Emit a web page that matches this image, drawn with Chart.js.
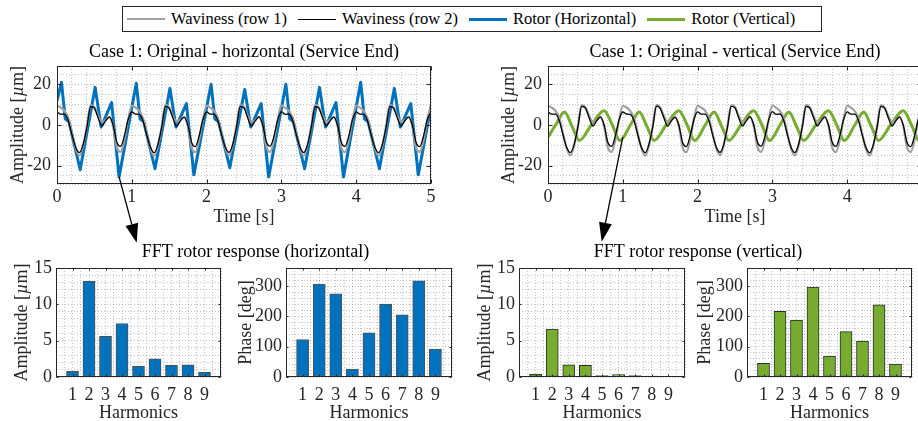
<!DOCTYPE html>
<html>
<head>
<meta charset="utf-8">
<script src="https://cdn.jsdelivr.net/npm/chart.js@4.4.1/dist/chart.umd.min.js"></script>
<style>
  html, body { margin: 0; padding: 0; background: #fff; }
  #wrap { position: relative; width: 918px; height: 421px; overflow: hidden; background: #fff; }
  canvas.layer { position: absolute; left: 0; top: 0; }
  #legend {
    position: absolute; left: 122px; top: 6px; width: 700px; height: 26px;
    box-sizing: border-box; border: 1px solid #262626; background: #fff;
    display: flex; align-items: center; padding-left: 4px;
    font-family: "Liberation Serif", serif; font-size: 16.5px; color: #000; white-space: nowrap;
  }
  #legend .item { display: flex; align-items: center; margin-right: 11px; }
  #legend .swatch { width: 38px; margin-right: 6px; }
</style>
</head>
<body>
<div id="wrap">
  <canvas class="layer" id="timeH" width="940" height="421"></canvas>
  <canvas class="layer" id="timeV" width="940" height="421"></canvas>
  <canvas class="layer" id="ampH" width="940" height="421"></canvas>
  <canvas class="layer" id="phaseH" width="940" height="421"></canvas>
  <canvas class="layer" id="ampV" width="940" height="421"></canvas>
  <canvas class="layer" id="phaseV" width="940" height="421"></canvas>
  <canvas class="layer" id="notes" width="940" height="421"></canvas>
  <div id="legend"></div>
</div>
<script>
// ---------------- measured signals ----------------
// waviness samples every 0.05 s over 0..5 s
const waveTime = Array.from({ length: 101 }, (_, i) => i / 20);

const wavinessRow1 = [
  9.5, 8.5, 7.0, 3.5, -4.0, -11.5, -15.0, -10.0, -0.5, 9.8, 8.8, 4.5, 1.5, 2.5, 3.8, -0.5, -11.0, -13.2, -7.5, 2.5,
  9.4, 8.6, 6.9, 3.4, -4.1, -11.6, -15.1, -10.1, -0.6, 9.9, 8.7, 4.4, 1.6, 2.6, 3.7, -0.6, -11.1, -13.4, -7.4, 2.6,
  9.5, 8.5, 7.1, 3.5, -4.0, -11.4, -14.9, -9.9, -0.4, 9.8, 8.9, 4.5, 1.5, 2.4, 3.8, -0.4, -10.9, -13.2, -7.6, 2.4,
  9.6, 8.4, 7.0, 3.6, -3.9, -11.5, -15.0, -10.0, -0.5, 9.9, 8.8, 4.6, 1.4, 2.5, 3.9, -0.5, -11.0, -13.3, -7.5, 2.5,
  9.5, 8.5, 6.9, 3.5, -4.0, -11.6, -15.1, -10.1, -0.5, 9.8, 8.7, 4.5, 1.5, 2.5, 3.8, -0.6, -11.1, -13.2, -7.4, 2.6,
  9.5
];

const wavinessRow2 = [
  6.5, 5.3, 5.3, 2.2, -4.8, -11.0, -13.5, -9.5, -1.0, 9.2, 8.3, 3.5, -0.5, 2.0, 4.0, 0.0, -8.5, -10.5, -5.5, 2.5,
  6.4, 5.4, 5.2, 2.1, -4.9, -11.1, -13.6, -9.4, -1.1, 9.3, 8.2, 3.4, -0.6, 2.1, 3.9, -0.1, -8.6, -10.6, -5.4, 2.6,
  6.5, 5.3, 5.3, 2.2, -4.7, -10.9, -13.4, -9.5, -0.9, 9.2, 8.4, 3.5, -0.5, 2.0, 4.1, 0.1, -8.4, -10.4, -5.6, 2.4,
  6.6, 5.2, 5.4, 2.3, -4.8, -11.0, -13.5, -9.6, -1.0, 9.1, 8.3, 3.6, -0.4, 1.9, 4.0, 0.0, -8.5, -10.5, -5.5, 2.5,
  6.5, 5.3, 5.3, 2.2, -4.8, -11.1, -13.6, -9.5, -1.0, 9.2, 8.3, 3.5, -0.5, 2.0, 4.0, -0.1, -8.6, -10.6, -5.4, 2.6,
  6.5
];

// rotor response, horizontal (turning points of the recorded trace)
const rotorHTime = [
  0, 0.06, 0.11, 0.16, 0.31, 0.51, 0.59, 0.73, 0.83,
  1.06, 1.11, 1.16, 1.31, 1.51, 1.59, 1.73, 1.83,
  2.06, 2.11, 2.16, 2.31, 2.51, 2.59, 2.73, 2.83,
  3.06, 3.11, 3.16, 3.31, 3.51, 3.59, 3.73, 3.83,
  4.06, 4.11, 4.16, 4.31, 4.51, 4.59, 4.73, 4.83,
  5.0
];
const rotorH = [
  12, 21, 3, 1.5, -22, 18.5, -1, 11, -25.5,
  20.5, 3, 1.5, -21.5, 18, -1, 10.5, -24.5,
  20, 3, 1.5, -21, 17.5, -1, 10.5, -25.5,
  20, 3, 1.5, -21.5, 18.5, -1, 11, -25.5,
  21, 3, 1.5, -21.5, 18, -1, 10.5, -24.5,
  9
];

// rotor response, vertical
const rotorVTime = [
  0, 0.11, 0.22, 0.32, 0.42, 0.58, 0.75, 0.86, 0.96,
  1.11, 1.22, 1.32, 1.42, 1.58, 1.75, 1.86, 1.96,
  2.11, 2.22, 2.32, 2.42, 2.58, 2.75, 2.86, 2.96,
  3.11, 3.22, 3.32, 3.42, 3.58, 3.75, 3.86, 3.96,
  4.11, 4.22, 4.32, 4.42, 4.58, 4.75, 4.86, 4.96,
  5.0
];
const rotorV = [
  -5.9, 0.5, 6.4, -0.5, -7.6, 0.0, 7.0, 0.0, -7.6,
  0.5, 6.4, -0.5, -7.6, 0.0, 7.0, 0.0, -7.6,
  0.5, 6.4, -0.5, -7.6, 0.0, 7.0, 0.0, -7.6,
  0.5, 6.4, -0.5, -7.6, 0.0, 7.0, 0.0, -7.6,
  0.5, 6.4, -0.5, -7.6, 0.0, 7.0, 0.0, -7.6,
  -7.3
];

// FFT of the rotor response
const harmonics = [1, 2, 3, 4, 5, 6, 7, 8, 9];
const fftAmpH   = [0.78, 13.2, 5.58, 7.36, 1.46, 2.51, 1.6, 1.69, 0.64];
const fftPhaseH = [124, 307, 275, 26, 146, 241, 205, 318, 92];
const fftAmpV   = [0.41, 6.58, 1.69, 1.6, 0.18, 0.32, 0.18, 0.14, 0.05];
const fftPhaseV = [45, 217, 188, 297, 69, 150, 119, 238, 43];

// tick labels
const timeTicks = [0, 1, 2, 3, 4, 5];
const ampTicks = [-20, 0, 20];
const fftAmpTicks = [0, 5, 10, 15];
const fftPhaseTicks = [0, 100, 200, 300];

// ---------------- styling ----------------
const FONT = '"Liberation Serif", "Times New Roman", serif';
const AXIS = '#262626';
const GRID = 'rgba(38,38,38,0.28)';
const BLUE = '#0072bd', GREEN = '#77ac30', GRAY = '#a0a0a0', BLACK = '#000000';
const W = 940, H = 421, YW = 40, XH = 30;
const BAR_WIDTH = 0.73; // in harmonic units

const series = [
  { label: 'Waviness (row 1)', color: GRAY, width: 2.2 },
  { label: 'Waviness (row 2)', color: BLACK, width: 1.3 },
  { label: 'Rotor (Horizontal)', color: BLUE, width: 3 },
  { label: 'Rotor (Vertical)', color: GREEN, width: 3 }
];

function steps(min, max, step) {
  const out = [];
  for (let v = Math.ceil(min / step - 1e-9) * step; v <= max + 1e-9; v += step) out.push(+v.toFixed(6));
  return out;
}
const pts = (xs, ys) => xs.map((x, i) => ({ x, y: ys[i] }));

// box, inward major ticks and text around each axes
const framePlugin = {
  id: 'frame',
  afterDraw(chart, args, o) {
    const { ctx, chartArea: a, scales: { x, y } } = chart;
    ctx.save();
    ctx.strokeStyle = AXIS; ctx.lineWidth = 1; ctx.setLineDash([]);
    const L = Math.round(a.left) + 0.5, R = Math.round(a.right) - 0.5;
    const T = Math.round(a.top) + 0.5, B = Math.round(a.bottom) - 0.5;
    ctx.strokeRect(L, T, R - L, B - T);
    const tl = o.tickLen;
    ctx.beginPath();
    o.xMajor.forEach(v => {
      const p = Math.round(x.getPixelForValue(v)) + 0.5;
      ctx.moveTo(p, B); ctx.lineTo(p, B - tl);
      ctx.moveTo(p, T); ctx.lineTo(p, T + tl);
    });
    o.yMajor.forEach(v => {
      const p = Math.round(y.getPixelForValue(v)) + 0.5;
      ctx.moveTo(L, p); ctx.lineTo(L + tl, p);
      ctx.moveTo(R, p); ctx.lineTo(R - tl, p);
    });
    ctx.stroke();

    ctx.fillStyle = '#000';
    ctx.textBaseline = 'alphabetic';
    ctx.textAlign = 'center';
    if (o.title) {
      ctx.font = `18px ${FONT}`;
      ctx.fillText(o.title, (a.left + a.right) / 2, o.titleY);
    }
    ctx.fillStyle = AXIS;
    ctx.font = `18px ${FONT}`;
    ctx.fillText(o.xTitle, (a.left + a.right) / 2, o.xTitleY);

    // rotated y title, the unit symbol set in italics
    const parts = o.yTitle;
    const fonts = parts.map(p => `${p.italic ? 'italic ' : ''}18px ${FONT}`);
    const widths = parts.map((p, i) => { ctx.font = fonts[i]; return ctx.measureText(p.text).width; });
    const total = widths.reduce((s, w) => s + w, 0);
    ctx.translate(o.yTitleX, (a.top + a.bottom) / 2);
    ctx.rotate(-Math.PI / 2);
    ctx.textAlign = 'left';
    ctx.textBaseline = 'middle';
    let cx = -total / 2;
    parts.forEach((p, i) => { ctx.font = fonts[i]; ctx.fillText(p.text, cx, 0); cx += widths[i]; });
    ctx.restore();
  }
};

function axisChart(id, box, spec) {
  const axisCommon = (ax) => ({
    type: 'linear', min: ax.min, max: ax.max, offset: false,
    afterBuildTicks: s => { s.ticks = ax.grid.map(v => ({ value: v })); },
    grid: { color: GRID, lineWidth: 1, drawTicks: false, offset: false },
    border: { display: false, dash: [1, 2] },
    ticks: {
      autoSkip: false, maxRotation: 0, minRotation: 0, padding: ax.pad, color: AXIS,
      font: { family: FONT, size: 18 },
      callback: v => (ax.labels.includes(+v.toFixed(6)) ? String(+v.toFixed(6)) : '')
    }
  });
  const xs = axisCommon(spec.x); xs.afterFit = s => { s.height = XH; };
  const ys = axisCommon(spec.y); ys.afterFit = s => { s.width = YW; };
  if (spec.type === 'bar') {
    // bar width follows the harmonic spacing of this axes
    const unitPx = (box.right - box.left) / (spec.x.max - spec.x.min);
    spec.datasets.forEach(d => { d.barThickness = unitPx * BAR_WIDTH; });
  }
  return new Chart(document.getElementById(id), {
    type: spec.type,
    data: { datasets: spec.datasets },
    options: {
      responsive: false, animation: false, devicePixelRatio: 1,
      layout: { padding: { left: box.left - YW, right: W - box.right, top: box.top, bottom: H - box.bottom - XH } },
      plugins: { legend: { display: false }, tooltip: { enabled: false }, frame: spec.frame },
      scales: { x: xs, y: ys }
    },
    plugins: [framePlugin]
  });
}

const lineSet = (s, data, smooth) => ({
  label: s.label, data, borderColor: s.color, backgroundColor: s.color, borderWidth: s.width,
  pointRadius: 0, fill: false, borderJoinStyle: 'round', borderCapStyle: 'round',
  cubicInterpolationMode: smooth ? 'monotone' : 'default', tension: 0
});
const barSet = (label, vals, fillColor, edge) => ({
  label, data: pts(harmonics, vals), backgroundColor: fillColor, borderColor: edge,
  borderWidth: 1, borderSkipped: false
});

const ampLabel = [{ text: 'Amplitude [' }, { text: '\u00b5', italic: true }, { text: 'm]' }];
const phaseLabel = [{ text: 'Phase [deg]' }];

// ---------------- time histories ----------------
const timeX = { min: 0, max: 5, grid: steps(0, 5, 0.2), labels: timeTicks, pad: 2 };
const timeY = { min: -29, max: 29, grid: steps(-29, 29, 5).concat([-29, 29]), labels: ampTicks, pad: 6 };

const chartTimeH = axisChart('timeH', { left: 57, right: 431, top: 66, bottom: 184 }, {
  type: 'line',
  datasets: [
    lineSet(series[1], pts(waveTime, wavinessRow2), true),
    lineSet(series[0], pts(waveTime, wavinessRow1), true),
    lineSet(series[2], pts(rotorHTime, rotorH), false)
  ],
  x: timeX, y: timeY,
  frame: { xMajor: timeTicks, yMajor: ampTicks, tickLen: 4,
    title: 'Case 1: Original - horizontal (Service End)', titleY: 57,
    xTitle: 'Time [s]', xTitleY: 222, yTitle: ampLabel, yTitleX: 18 }
});

const chartTimeV = axisChart('timeV', { left: 548, right: 922, top: 66, bottom: 184 }, {
  type: 'line',
  datasets: [
    lineSet(series[1], pts(waveTime, wavinessRow2), true),
    lineSet(series[0], pts(waveTime, wavinessRow1), true),
    lineSet(series[3], pts(rotorVTime, rotorV), true)
  ],
  x: timeX, y: timeY,
  frame: { xMajor: timeTicks, yMajor: ampTicks, tickLen: 4,
    title: 'Case 1: Original - vertical (Service End)', titleY: 57,
    xTitle: 'Time [s]', xTitleY: 222, yTitle: ampLabel, yTitleX: 509 }
});

// ---------------- FFT bars ----------------
const harmX = { min: 0, max: 10, grid: steps(0, 10, 0.5), labels: harmonics, pad: 7 };
const ampY = { min: 0, max: 15, grid: steps(0, 15, 1), labels: fftAmpTicks, pad: 4 };
const phaseY = { min: 0, max: 360, grid: steps(0, 360, 20), labels: fftPhaseTicks, pad: 4 };

axisChart('ampH', { left: 56, right: 221, top: 268, bottom: 377 }, {
  type: 'bar', datasets: [barSet('Amplitude', fftAmpH, BLUE, '#505050')],
  x: harmX, y: ampY,
  frame: { xMajor: harmonics, yMajor: fftAmpTicks, tickLen: 2, xTitle: 'Harmonics', xTitleY: 418, yTitle: ampLabel, yTitleX: 22.5 }
});
axisChart('phaseH', { left: 286, right: 452, top: 268, bottom: 377 }, {
  type: 'bar', datasets: [barSet('Phase', fftPhaseH, BLUE, '#505050')],
  x: harmX, y: phaseY,
  frame: { xMajor: harmonics, yMajor: fftPhaseTicks, tickLen: 2, xTitle: 'Harmonics', xTitleY: 418, yTitle: phaseLabel, yTitleX: 246 }
});
axisChart('ampV', { left: 519, right: 685, top: 268, bottom: 377 }, {
  type: 'bar', datasets: [barSet('Amplitude', fftAmpV, GREEN, '#2a2a2a')],
  x: harmX, y: ampY,
  frame: { xMajor: harmonics, yMajor: fftAmpTicks, tickLen: 2, xTitle: 'Harmonics', xTitleY: 418, yTitle: ampLabel, yTitleX: 485.5 }
});
axisChart('phaseV', { left: 747, right: 912, top: 268, bottom: 377 }, {
  type: 'bar', datasets: [barSet('Phase', fftPhaseV, GREEN, '#2a2a2a')],
  x: harmX, y: phaseY,
  frame: { xMajor: harmonics, yMajor: fftPhaseTicks, tickLen: 2, xTitle: 'Harmonics', xTitleY: 418, yTitle: phaseLabel, yTitleX: 705.5 }
});

// ---------------- group headings and arrows ----------------
(function drawNotes() {
  const ctx = document.getElementById('notes').getContext('2d');
  ctx.fillStyle = '#000';
  ctx.font = `18px ${FONT}`;
  ctx.textAlign = 'center';
  ctx.textBaseline = 'alphabetic';
  ctx.fillText('FFT rotor response (horizontal)', 255.5, 257);
  ctx.fillText('FFT rotor response (vertical)', 698, 257);

  function arrow(x0, y0, x1, y1) {
    const ang = Math.atan2(y1 - y0, x1 - x0), len = 19, half = 6.5;
    const bx = x1 - len * Math.cos(ang), by = y1 - len * Math.sin(ang);
    ctx.strokeStyle = '#000'; ctx.lineWidth = 1.3;
    ctx.beginPath(); ctx.moveTo(x0, y0); ctx.lineTo(bx, by); ctx.stroke();
    ctx.beginPath();
    ctx.moveTo(x1, y1);
    ctx.lineTo(bx + half * Math.sin(ang), by - half * Math.cos(ang));
    ctx.lineTo(bx - half * Math.sin(ang), by + half * Math.cos(ang));
    ctx.closePath(); ctx.fill();
  }
  // from the deepest horizontal trough and from a vertical trough down to the spectra
  const hx = chartTimeH.scales.x.getPixelForValue(0.83), hy = chartTimeH.scales.y.getPixelForValue(-25.5);
  arrow(hx, hy, 136.7, 242.7);
  const vx = chartTimeV.scales.x.getPixelForValue(1.0), vy = chartTimeV.scales.y.getPixelForValue(-5.8);
  arrow(vx, vy, 601.7, 241.7);
})();

// ---------------- legend ----------------
(function buildLegend() {
  const box = document.getElementById('legend');
  series.forEach(s => {
    const item = document.createElement('div'); item.className = 'item';
    const sw = document.createElement('div'); sw.className = 'swatch';
    sw.style.borderTop = `${s.width}px solid ${s.color}`;
    const tx = document.createElement('span'); tx.textContent = s.label;
    item.appendChild(sw); item.appendChild(tx); box.appendChild(item);
  });
})();
</script>
</body>
</html>
